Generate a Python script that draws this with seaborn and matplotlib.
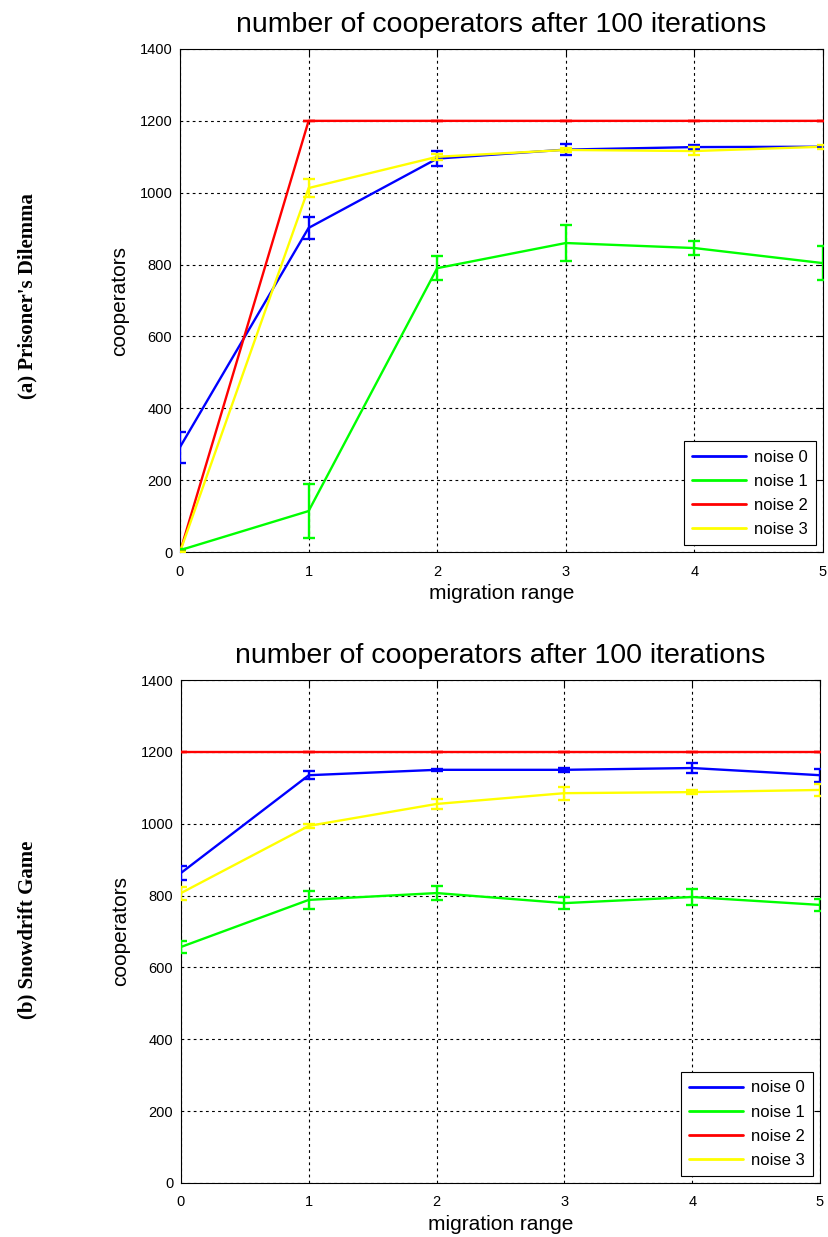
import numpy as np
import pandas as pd
import matplotlib
matplotlib.use("Agg")
import matplotlib.pyplot as plt
import seaborn as sns

# ---------------- data ----------------
migration = [0, 1, 2, 3, 4, 5]
series_names = ["noise 0", "noise 1", "noise 2", "noise 3"]
series_colors = ["#0000ff", "#00ff00", "#ff0000", "#ffff00"]

# (a) Prisoner's Dilemma
pd_noise0 = [292, 902, 1095, 1120, 1127, 1128]
pd_noise1 = [5, 114, 790, 860, 846, 804]
pd_noise2 = [0, 1200, 1200, 1200, 1200, 1200]
pd_noise3 = [0, 1013, 1100, 1119, 1116, 1128]
pd_err0 = [43, 30, 21, 15, 5, 3]
pd_err1 = [3, 74, 33, 49, 20, 48]
pd_err2 = [0, 0, 0, 0, 0, 0]
pd_err3 = [0, 25, 8, 5, 10, 5]

# (b) Snowdrift Game
sd_noise0 = [863, 1135, 1150, 1150, 1155, 1135]
sd_noise1 = [657, 788, 807, 779, 796, 774]
sd_noise2 = [1200, 1200, 1200, 1200, 1200, 1200]
sd_noise3 = [807, 994, 1055, 1085, 1088, 1094]
sd_err0 = [20, 11, 3, 5, 14, 18]
sd_err1 = [16, 24, 20, 17, 21, 17]
sd_err2 = [0, 0, 0, 0, 0, 0]
sd_err3 = [18, 5, 14, 18, 6, 16]

title_text = "number of cooperators after 100 iterations"
xlabel_text = "migration range"
ylabel_text = "cooperators"
panel_labels = ["(a) Prisoner's Dilemma", "(b) Snowdrift Game"]
yticks = [0, 200, 400, 600, 800, 1000, 1200, 1400]

# ---------------- style ----------------
sns.set_style("white")
plt.rcParams["font.family"] = ["Liberation Sans", "DejaVu Sans"]
plt.rcParams["text.color"] = "black"
plt.rcParams["axes.labelcolor"] = "black"
plt.rcParams["xtick.color"] = "black"
plt.rcParams["ytick.color"] = "black"

fig = plt.figure(figsize=(8.29, 12.37), dpi=100)
ax_top = fig.add_axes([180 / 829, 1 - 552 / 1237, 643 / 829, 503 / 1237])
ax_bot = fig.add_axes([181 / 829, 1 - 1183 / 1237, 639 / 829, 503 / 1237])


def draw_panel(ax, values, errors):
    frames = []
    for name, vals in zip(series_names, values):
        frames.append(pd.DataFrame({"migration": migration, "cooperators": vals, "series": name}))
    df = pd.concat(frames, ignore_index=True)
    sns.lineplot(data=df, x="migration", y="cooperators", hue="series",
                 hue_order=series_names, palette=series_colors,
                 linewidth=1.7, ax=ax, legend=False, errorbar=None, zorder=3)
    for vals, errs, col in zip(values, errors, series_colors):
        ax.errorbar(migration, vals, yerr=errs, fmt="none", ecolor=col,
                    elinewidth=1.7, capsize=4.5, capthick=1.7, zorder=3)
    ax.set_xlim(0, 5)
    ax.set_ylim(0, 1400)
    ax.set_xticks(migration)
    ax.set_yticks(yticks)
    ax.tick_params(direction="in", top=True, right=True, length=4,
                   labelsize=10.5, colors="black")
    ax.tick_params(axis="x", pad=9)
    ax.tick_params(axis="y", pad=5.5)
    ax.grid(True, linestyle=(0, (2.5, 3)), color="black", linewidth=0.8)
    for sp in ax.spines.values():
        sp.set_visible(True)
        sp.set_color("black")
        sp.set_linewidth(0.8)
    ax.set_title(title_text, fontsize=20.5, pad=12, color="black")
    ax.set_xlabel(xlabel_text, fontsize=15, labelpad=4, color="black")
    ax.set_ylabel(ylabel_text, fontsize=15, labelpad=7.5, color="black")
    handles = [plt.Line2D([], [], color=c, linewidth=2) for c in series_colors]
    leg = ax.legend(handles, series_names, loc="lower right", fontsize=12,
                    fancybox=False, framealpha=1, edgecolor="black",
                    borderaxespad=0.4, handlelength=3.2, handletextpad=0.5,
                    labelspacing=0.55, borderpad=0.5)
    leg.get_frame().set_linewidth(0.8)
    leg.set_zorder(5)


draw_panel(ax_top, [pd_noise0, pd_noise1, pd_noise2, pd_noise3],
           [pd_err0, pd_err1, pd_err2, pd_err3])
draw_panel(ax_bot, [sd_noise0, sd_noise1, sd_noise2, sd_noise3],
           [sd_err0, sd_err1, sd_err2, sd_err3])

serif = ["Liberation Serif", "DejaVu Serif"]
fig.text(27 / 829, 1 - 296 / 1237, panel_labels[0], rotation=90, ha="center", va="center",
         fontsize=15, fontweight="bold", family=serif)
fig.text(27 / 829, 1 - 930 / 1237, panel_labels[1], rotation=90, ha="center", va="center",
         fontsize=15, fontweight="bold", family=serif)

fig.savefig("out.png", dpi=100)
